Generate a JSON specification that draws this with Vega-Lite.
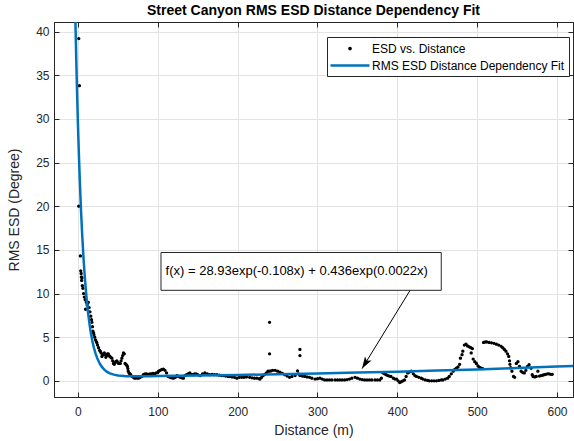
{
  "$schema": "https://vega.github.io/schema/vega-lite/v6.json",
  "width": 519,
  "height": 375,
  "autosize": {"type": "none"},
  "padding": {"left": 54, "top": 22, "right": 1, "bottom": 44},
  "background": "white",
  "title": {"text": "Street Canyon RMS ESD Distance Dependency Fit", "font": "Liberation Sans", "fontSize": 14, "fontWeight": "bold", "color": "black", "offset": 4, "anchor": "middle", "frame": "group"},
  "config": {
    "view": {"stroke": "#262626", "strokeWidth": 1},
    "axis": {
      "labelFont": "Liberation Sans", "labelFontSize": 12, "labelColor": "#262626",
      "titleFont": "Liberation Sans", "titleFontSize": 14, "titleColor": "#262626", "titleFontWeight": "normal",
      "domainColor": "#262626", "tickColor": "#262626", "tickSize": -5, "gridColor": "#e3e3e3"
    },
    "legend": {
      "labelFont": "Liberation Sans", "labelFontSize": 12, "labelColor": "black", "labelOffset": 14.5, "labelLimit": 0,
      "strokeColor": "#262626", "fillColor": "white", "padding": 4, "rowPadding": 3,
      "symbolSize": 225, "symbolOffset": 11.5, "symbolStrokeWidth": 0, "symbolOpacity": 1
    }
  },
  "datasets": {
    "scatter": [
      {"distance":1,"esd":39.2},{"distance":1.8,"esd":33.8},{"distance":1,"esd":20.0},{"distance":3,"esd":14.3},{"distance":3.5,"esd":12.6},{"distance":4,"esd":12.3},{"distance":4.3,"esd":11.9},{"distance":4.6,"esd":11.5},{"distance":5,"esd":11.8},{"distance":5.5,"esd":10.9},{"distance":6.2,"esd":10.6},{"distance":7,"esd":10.0},{"distance":8,"esd":9.6},{"distance":9.1,"esd":9.3},{"distance":9.5,"esd":8.2},{"distance":10.5,"esd":9.0},{"distance":11.5,"esd":8.7},{"distance":13,"esd":9.0},{"distance":14,"esd":8.4},{"distance":15,"esd":7.9},{"distance":16,"esd":7.4},{"distance":17,"esd":7.0},{"distance":17.5,"esd":6.7},{"distance":18.2,"esd":6.2},{"distance":18.7,"esd":5.7},{"distance":19.5,"esd":5.5},{"distance":20,"esd":5.3},{"distance":21,"esd":5.0},{"distance":22,"esd":4.7},{"distance":23,"esd":4.5},{"distance":23.7,"esd":4.35},{"distance":24.5,"esd":4.1},{"distance":25.8,"esd":3.8},{"distance":27,"esd":3.5},{"distance":28,"esd":3.4},{"distance":29,"esd":3.2},{"distance":30,"esd":2.8},{"distance":31,"esd":3.0},{"distance":32,"esd":3.0},{"distance":33,"esd":3.2},{"distance":34,"esd":3.0},{"distance":35,"esd":2.7},{"distance":36,"esd":2.9},{"distance":37,"esd":3.1},{"distance":38,"esd":3.1},{"distance":39,"esd":2.9},{"distance":40,"esd":2.8},{"distance":41,"esd":2.7},{"distance":42.5,"esd":2.6},{"distance":43.5,"esd":2.3},{"distance":44.5,"esd":2.0},{"distance":45.5,"esd":1.9},{"distance":46.5,"esd":2.1},{"distance":47.5,"esd":2.2},{"distance":48.7,"esd":2.3},{"distance":50,"esd":2.1},{"distance":51,"esd":2.0},{"distance":52,"esd":2.0},{"distance":53,"esd":2.0},{"distance":54,"esd":2.3},{"distance":55,"esd":2.6},{"distance":56,"esd":2.9},{"distance":57,"esd":3.2},{"distance":58,"esd":3.1},{"distance":59,"esd":2.0},{"distance":60,"esd":1.9},{"distance":61,"esd":1.8},{"distance":62,"esd":1.65},{"distance":62.5,"esd":1.4},{"distance":63,"esd":1.1},{"distance":64,"esd":0.9},{"distance":65,"esd":0.8},{"distance":66,"esd":0.7},{"distance":68,"esd":0.5},{"distance":70,"esd":0.35},{"distance":71.6,"esd":0.3},{"distance":73,"esd":0.35},{"distance":75,"esd":0.3},{"distance":77,"esd":0.35},{"distance":78,"esd":0.4},{"distance":80,"esd":0.5},{"distance":82,"esd":0.7},{"distance":84,"esd":0.8},{"distance":86,"esd":0.8},{"distance":88,"esd":0.75},{"distance":90,"esd":0.8},{"distance":92,"esd":0.8},{"distance":94,"esd":0.85},{"distance":96,"esd":0.8},{"distance":98,"esd":0.9},{"distance":100,"esd":0.95},{"distance":101,"esd":1.1},{"distance":103,"esd":1.2},{"distance":105,"esd":1.3},{"distance":107,"esd":1.35},{"distance":109,"esd":1.2},{"distance":111,"esd":0.9},{"distance":113,"esd":0.5},{"distance":115,"esd":0.4},{"distance":117,"esd":0.35},{"distance":119.5,"esd":0.3},{"distance":122,"esd":0.4},{"distance":124,"esd":0.6},{"distance":126,"esd":0.5},{"distance":128,"esd":0.4},{"distance":130,"esd":0.35},{"distance":132,"esd":0.3},{"distance":134,"esd":0.6},{"distance":136,"esd":0.7},{"distance":138,"esd":0.8},{"distance":140,"esd":0.9},{"distance":142,"esd":0.75},{"distance":144,"esd":0.7},{"distance":146,"esd":0.8},{"distance":148,"esd":0.8},{"distance":150,"esd":0.7},{"distance":153,"esd":0.6},{"distance":156,"esd":0.8},{"distance":159,"esd":0.9},{"distance":162,"esd":0.8},{"distance":165,"esd":0.7},{"distance":168,"esd":0.75},{"distance":171,"esd":0.7},{"distance":174,"esd":0.7},{"distance":177,"esd":0.65},{"distance":180,"esd":0.6},{"distance":182,"esd":0.6},{"distance":185,"esd":0.55},{"distance":188,"esd":0.5},{"distance":190,"esd":0.5},{"distance":193,"esd":0.45},{"distance":196,"esd":0.4},{"distance":199,"esd":0.3},{"distance":202,"esd":0.4},{"distance":205,"esd":0.4},{"distance":208,"esd":0.4},{"distance":211,"esd":0.45},{"distance":215,"esd":0.4},{"distance":218,"esd":0.35},{"distance":221,"esd":0.3},{"distance":224,"esd":0.3},{"distance":227,"esd":0.25},{"distance":228,"esd":0.2},{"distance":230,"esd":0.4},{"distance":232,"esd":0.6},{"distance":234,"esd":0.75},{"distance":236,"esd":0.9},{"distance":238,"esd":1.1},{"distance":240,"esd":1.1},{"distance":242,"esd":1.15},{"distance":244,"esd":1.2},{"distance":247,"esd":1.2},{"distance":250,"esd":1.1},{"distance":253,"esd":1.0},{"distance":256,"esd":0.85},{"distance":259,"esd":0.7},{"distance":262,"esd":0.55},{"distance":265,"esd":0.4},{"distance":268,"esd":0.5},{"distance":272,"esd":0.6},{"distance":275,"esd":1.15},{"distance":276,"esd":0.8},{"distance":278,"esd":0.6},{"distance":281,"esd":0.55},{"distance":284,"esd":0.5},{"distance":287,"esd":0.45},{"distance":290,"esd":0.4},{"distance":293,"esd":0.3},{"distance":297,"esd":0.2},{"distance":300,"esd":0.25},{"distance":303,"esd":0.3},{"distance":306,"esd":0.2},{"distance":309,"esd":0.1},{"distance":312,"esd":0.1},{"distance":315,"esd":0.1},{"distance":318,"esd":0.1},{"distance":322,"esd":0.1},{"distance":325,"esd":0.1},{"distance":328,"esd":0.1},{"distance":331,"esd":0.1},{"distance":334,"esd":0.1},{"distance":337,"esd":0.15},{"distance":340,"esd":0.2},{"distance":343,"esd":0.3},{"distance":347,"esd":0.4},{"distance":350,"esd":0.3},{"distance":353,"esd":0.2},{"distance":356,"esd":0.15},{"distance":359,"esd":0.1},{"distance":362,"esd":0.1},{"distance":365,"esd":0.1},{"distance":368,"esd":0.1},{"distance":372,"esd":0.1},{"distance":375,"esd":0.1},{"distance":378,"esd":0.1},
      {"distance":240,"esd":6.7},{"distance":240,"esd":3.1},{"distance":278,"esd":3.6},{"distance":278,"esd":2.9},
      {"distance":380,"esd":0.3},{"distance":382,"esd":0.9},{"distance":384,"esd":0.8},{"distance":386,"esd":0.7},{"distance":388,"esd":0.6},{"distance":390,"esd":0.55},{"distance":392,"esd":0.5},{"distance":395,"esd":0.3},{"distance":397,"esd":0.2},{"distance":399,"esd":0.2},{"distance":401,"esd":0.0},{"distance":403,"esd":-0.2},{"distance":405,"esd":-0.1},{"distance":407,"esd":0.0},{"distance":409,"esd":0.1},{"distance":411,"esd":0.5},{"distance":413,"esd":0.9},{"distance":415,"esd":1.0},{"distance":417.5,"esd":1.1},{"distance":420,"esd":0.8},{"distance":422,"esd":0.6},{"distance":424,"esd":0.5},{"distance":427,"esd":0.4},{"distance":430,"esd":0.3},{"distance":432,"esd":0.2},{"distance":435,"esd":0.1},{"distance":438,"esd":0.05},{"distance":440,"esd":0.0},{"distance":443,"esd":0.0},{"distance":446,"esd":0.0},{"distance":449,"esd":0.0},{"distance":452,"esd":0.05},{"distance":455,"esd":0.1},{"distance":457,"esd":0.1},{"distance":460,"esd":0.2},{"distance":463,"esd":0.3},{"distance":465,"esd":0.5},{"distance":467.5,"esd":0.8},{"distance":470,"esd":1.1},{"distance":472,"esd":1.3},{"distance":474,"esd":1.45},{"distance":476,"esd":1.6},{"distance":478,"esd":1.9},{"distance":479,"esd":2.6},{"distance":481,"esd":3.0},{"distance":482,"esd":3.4},{"distance":484,"esd":4.1},{"distance":486,"esd":4.2},{"distance":488,"esd":4.0},{"distance":490,"esd":3.9},{"distance":492,"esd":3.8},{"distance":494,"esd":3.7},{"distance":492.5,"esd":3.2},{"distance":495,"esd":2.5},{"distance":497,"esd":2.2},{"distance":499,"esd":2.0},{"distance":501,"esd":1.7},{"distance":503,"esd":1.55},{"distance":505,"esd":1.45},{"distance":507,"esd":1.4},
      {"distance":508,"esd":4.4},{"distance":510,"esd":4.45},{"distance":512,"esd":4.45},{"distance":515,"esd":4.4},{"distance":518,"esd":4.35},{"distance":521,"esd":4.3},{"distance":524,"esd":4.2},{"distance":527,"esd":4.1},{"distance":530,"esd":3.95},{"distance":532,"esd":3.8},{"distance":534,"esd":3.6},{"distance":536,"esd":3.4},{"distance":538,"esd":3.1},{"distance":539.5,"esd":2.8},{"distance":540.5,"esd":2.3},{"distance":541,"esd":1.9},{"distance":542,"esd":1.5},{"distance":543.5,"esd":1.1},{"distance":545.5,"esd":0.5},{"distance":547,"esd":0.4},{"distance":549,"esd":2.0},{"distance":551,"esd":2.2},{"distance":553,"esd":1.65},{"distance":555,"esd":1.1},{"distance":557,"esd":0.95},{"distance":559,"esd":0.9},{"distance":561,"esd":1.2},{"distance":563,"esd":1.65},{"distance":565,"esd":1.85},{"distance":567.5,"esd":1.45},{"distance":569,"esd":0.7},{"distance":570,"esd":0.5},{"distance":572,"esd":0.45},{"distance":574,"esd":0.5},{"distance":576,"esd":1.1},{"distance":578,"esd":0.55},{"distance":580,"esd":0.6},{"distance":582,"esd":0.65},{"distance":584,"esd":0.7},{"distance":586,"esd":0.75},{"distance":588,"esd":0.8},{"distance":590,"esd":0.8},{"distance":592,"esd":0.75},{"distance":594,"esd":0.75}
    ],
    "fit": [
      {"distance":-4,"esd":44.99},{"distance":-3,"esd":40.43},{"distance":-2,"esd":36.34},{"distance":-1,"esd":32.66},{"distance":0,"esd":29.37},{"distance":1,"esd":26.41},{"distance":2,"esd":23.75},{"distance":3,"esd":21.36},{"distance":4,"esd":19.22},{"distance":5,"esd":17.30},{"distance":6,"esd":15.58},{"distance":7,"esd":14.03},{"distance":8,"esd":12.64},{"distance":9,"esd":11.39},{"distance":10,"esd":10.27},{"distance":11,"esd":9.27},{"distance":12,"esd":8.36},{"distance":13,"esd":7.55},{"distance":14,"esd":6.83},{"distance":15,"esd":6.18},{"distance":16,"esd":5.59},{"distance":17,"esd":5.07},{"distance":18,"esd":4.59},{"distance":19,"esd":4.17},{"distance":20,"esd":3.79},{"distance":22,"esd":3.15},{"distance":24,"esd":2.63},{"distance":26,"esd":2.21},{"distance":28,"esd":1.87},{"distance":30,"esd":1.60},{"distance":33,"esd":1.29},{"distance":36,"esd":1.06},{"distance":40,"esd":0.86},{"distance":45,"esd":0.71},{"distance":50,"esd":0.62},{"distance":55,"esd":0.57},{"distance":60,"esd":0.54},{"distance":70,"esd":0.52},{"distance":80,"esd":0.52},{"distance":90,"esd":0.53},{"distance":100,"esd":0.543},{"distance":150,"esd":0.606},{"distance":200,"esd":0.677},{"distance":250,"esd":0.756},{"distance":300,"esd":0.844},{"distance":350,"esd":0.942},{"distance":400,"esd":1.051},{"distance":450,"esd":1.173},{"distance":500,"esd":1.310},{"distance":550,"esd":1.462},{"distance":600,"esd":1.632},{"distance":620,"esd":1.705}
    ],
    "box": [{"x1":104,"x2":455,"y1":10.37,"y2":14.7}],
    "label": [{"x":274,"y":12.55,"text":"f(x) = 28.93exp(-0.108x) + 0.436exp(0.0022x)"}],
    "arrow": [{"x1":416,"y1":10.37,"x2":355.8,"y2":1.4}]
  },
  "layer": [
    {
      "data": {"name": "scatter"},
      "mark": {"type": "point", "filled": true, "size": 170, "opacity": 1},
      "encoding": {
        "x": {"field": "distance", "type": "quantitative", "scale": {"domain": [-30, 620], "nice": false, "zero": false},
              "axis": {"orient": "bottom", "title": "Distance (m)", "values": [0,100,200,300,400,500,600], "grid": true, "labelPadding": 14, "titlePadding": 6}},
        "y": {"field": "esd", "type": "quantitative", "scale": {"domain": [-1.85, 41.1], "nice": false, "zero": false},
              "axis": {"orient": "left", "title": "RMS ESD (Degree)", "values": [0,5,10,15,20,25,30,35,40], "grid": true, "labelPadding": 10, "titlePadding": 14}},
        "color": {"datum": "ESD vs. Distance", "type": "nominal",
          "scale": {"domain": ["ESD vs. Distance", "RMS ESD Distance Dependency Fit"], "range": ["black", "#0072BD"]},
          "legend": {"orient": "none", "legendX": 273, "legendY": 15, "title": null}
        },
        "shape": {"datum": "ESD vs. Distance", "type": "nominal",
          "scale": {"domain": ["ESD vs. Distance", "RMS ESD Distance Dependency Fit"],
                    "range": ["M-0.25,0 A0.25,0.25 0 1,0 0.25,0 A0.25,0.25 0 1,0 -0.25,0 Z", "M-2.6,-0.17 L2.6,-0.17 L2.6,0.17 L-2.6,0.17 Z"]},
          "legend": {"orient": "none", "legendX": 273, "legendY": 15, "title": null}
        }
      }
    },
    {
      "data": {"name": "fit"},
      "mark": {"type": "line", "strokeWidth": 2.5, "clip": true, "color": "#0072BD"},
      "encoding": {
        "x": {"field": "distance", "type": "quantitative",
              "axis": {"orient": "top", "title": null, "labels": false, "grid": false, "values": [0,100,200,300,400,500,600]}},
        "y": {"field": "esd", "type": "quantitative",
              "axis": {"orient": "right", "title": null, "labels": false, "grid": false, "values": [0,5,10,15,20,25,30,35,40]}}
      }
    },
    {
      "data": {"name": "box"},
      "mark": {"type": "rect", "fill": "white", "stroke": "#262626", "strokeWidth": 1},
      "encoding": {
        "x": {"field": "x1", "type": "quantitative", "axis": null},
        "x2": {"field": "x2"},
        "y": {"field": "y1", "type": "quantitative", "axis": null},
        "y2": {"field": "y2"}
      }
    },
    {
      "data": {"name": "label"},
      "mark": {"type": "text", "font": "Liberation Sans", "fontSize": 13, "color": "black", "align": "center", "baseline": "middle"},
      "encoding": {
        "x": {"field": "x", "type": "quantitative", "axis": null},
        "y": {"field": "y", "type": "quantitative", "axis": null},
        "text": {"field": "text"}
      }
    },
    {
      "data": {"name": "arrow"},
      "mark": {"type": "rule", "color": "black", "strokeWidth": 1},
      "encoding": {
        "x": {"field": "x1", "type": "quantitative", "axis": null},
        "y": {"field": "y1", "type": "quantitative", "axis": null},
        "x2": {"field": "x2"},
        "y2": {"field": "y2"}
      }
    },
    {
      "data": {"name": "arrow"},
      "mark": {"type": "point", "shape": "M0,0 L-0.55,1.7 L0,1.3 L0.55,1.7 Z", "filled": true, "color": "black", "size": 196, "angle": 211.6, "opacity": 1},
      "encoding": {
        "x": {"field": "x2", "type": "quantitative", "axis": null},
        "y": {"field": "y2", "type": "quantitative", "axis": null}
      }
    }
  ],
  "resolve": {"axis": {"x": "independent", "y": "independent"}}
}
